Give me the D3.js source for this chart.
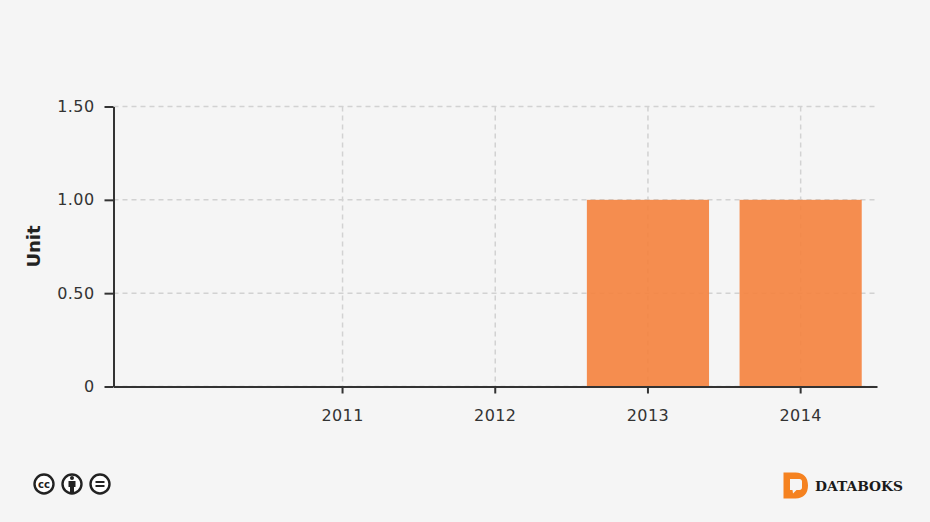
<!DOCTYPE html>
<html>
<head>
<meta charset="utf-8">
<script src="https://cdn.jsdelivr.net/npm/d3@7"></script>
<style>
  html, body { margin: 0; padding: 0; background: #f5f5f5; }
  svg { display: block; }
  text { font-family: "DejaVu Sans", sans-serif; fill: #333; }
</style>
</head>
<body>
<svg id="chart" width="930" height="522"></svg>
<script>
// Data
const years = ["2010", "2011", "2012", "2013", "2014"];
const units = [null, 0, 0, 1, 1];
const xLabels = ["2011", "2012", "2013", "2014"];
const yTicks = [0, 0.5, 1, 1.5];

const svg = d3.select("#chart");
const margin = { top: 106.5, right: 53, bottom: 135.5, left: 113.5 };
const width = +svg.attr("width");
const height = +svg.attr("height");

const x = d3
  .scaleBand()
  .domain(years)
  .range([margin.left, width - margin.right])
  .paddingInner(0.2)
  .paddingOuter(0.1);

const y = d3
  .scaleLinear()
  .domain([0, 1.5])
  .range([height - margin.bottom, margin.top]);

// Grid
svg
  .append("g")
  .selectAll("line")
  .data(yTicks)
  .enter()
  .append("line")
  .attr("x1", margin.left)
  .attr("x2", width - margin.right - 2)
  .attr("y1", (d) => y(d))
  .attr("y2", (d) => y(d))
  .attr("stroke", "#d2d2d2")
  .attr("stroke-width", 1.5)
  .attr("stroke-dasharray", "5,4");

svg
  .append("g")
  .selectAll("line")
  .data(xLabels)
  .enter()
  .append("line")
  .attr("x1", (d) => x(d) + x.bandwidth() / 2)
  .attr("x2", (d) => x(d) + x.bandwidth() / 2)
  .attr("y1", y(1.5))
  .attr("y2", y(0))
  .attr("stroke", "#d2d2d2")
  .attr("stroke-width", 1.5)
  .attr("stroke-dasharray", "5,4");

// Bars
svg
  .append("g")
  .selectAll("rect")
  .data(years.map((d, i) => ({ year: d, value: units[i] })).filter((d) => d.value))
  .enter()
  .append("rect")
  .attr("x", (d) => x(d.year))
  .attr("width", x.bandwidth())
  .attr("y", (d) => y(d.value))
  .attr("height", (d) => y(0) - y(d.value))
  .attr("fill", "#f5823d")
  .attr("fill-opacity", 0.9);

// Axes
const xAxis = d3
  .axisBottom(x)
  .tickValues(xLabels)
  .tickSizeInner(7)
  .tickSizeOuter(0)
  .tickPadding(16);
const gx = svg
  .append("g")
  .attr("transform", `translate(0,${y(0)})`)
  .call(xAxis);

const yAxis = d3
  .axisLeft(y)
  .tickValues(yTicks)
  .tickSizeInner(9)
  .tickSizeOuter(0)
  .tickPadding(10)
  .tickFormat((d) => (d === 0 ? "0" : d3.format(".2f")(d)));
const gy = svg
  .append("g")
  .attr("transform", `translate(${margin.left},0)`)
  .call(yAxis);

[gx, gy].forEach((g) => {
  g.selectAll("text")
    .style("font-family", '"DejaVu Sans", sans-serif')
    .style("font-size", "16px")
    .style("letter-spacing", "0.4px")
    .attr("fill", "#333");
  g.selectAll("path, line").attr("stroke", "#333").attr("stroke-width", 2);
});

svg
  .append("text")
  .attr("transform", `translate(40,${(y(0) + y(1.5)) / 2}) rotate(-90)`)
  .attr("text-anchor", "middle")
  .style("font-size", "18px")
  .style("font-weight", "bold")
  .style("fill", "#222")
  .text("Unit");

// Creative Commons badges
const badges = svg.append("g").attr("fill", "none").attr("stroke", "#222");
[44, 72, 100].forEach((cx) => {
  badges
    .append("circle")
    .attr("cx", cx)
    .attr("cy", 484)
    .attr("r", 9.5)
    .attr("stroke-width", 2.4)
    .attr("fill", "#fff");
});
badges
  .append("text")
  .attr("x", 44)
  .attr("y", 488)
  .attr("text-anchor", "middle")
  .attr("stroke", "none")
  .style("font-size", "10px")
  .style("font-weight", "bold")
  .style("fill", "#222")
  .text("cc");
badges
  .append("circle")
  .attr("cx", 72)
  .attr("cy", 478)
  .attr("r", 2)
  .attr("fill", "#222")
  .attr("stroke", "none");
badges
  .append("path")
  .attr("d", "M68.500 481h7v6h-1.500v6h-4v-6h-1.500z")
  .attr("fill", "#222")
  .attr("stroke", "none");
badges
  .append("path")
  .attr("d", "M95.500 482h9M95.500 486h9")
  .attr("stroke-width", 2.2);

// Databoks logo
svg
  .append("path")
  .attr("fill-rule", "evenodd")
  .attr("fill", "#f58220")
  .attr(
    "d",
    "M783.500 472.500h12c8 0 12.500 5 12.500 13s-4.500 13-12.500 13h-12z" +
      "M790 479v11h2.500l.5 3.500 3.500-3.500h3c1.500 0 2.500-1 2.500-2.500v-6c0-1.500-1-2.500-2.500-2.500z"
  );
svg
  .append("text")
  .attr("x", 815)
  .attr("y", 491)
  .style("font-family", '"DejaVu Serif", serif')
  .style("font-size", "13.8px")
  .style("font-weight", "bold")
  .style("fill", "#1a1a1a")
  .text("DATABOKS");
</script>
</body>
</html>
